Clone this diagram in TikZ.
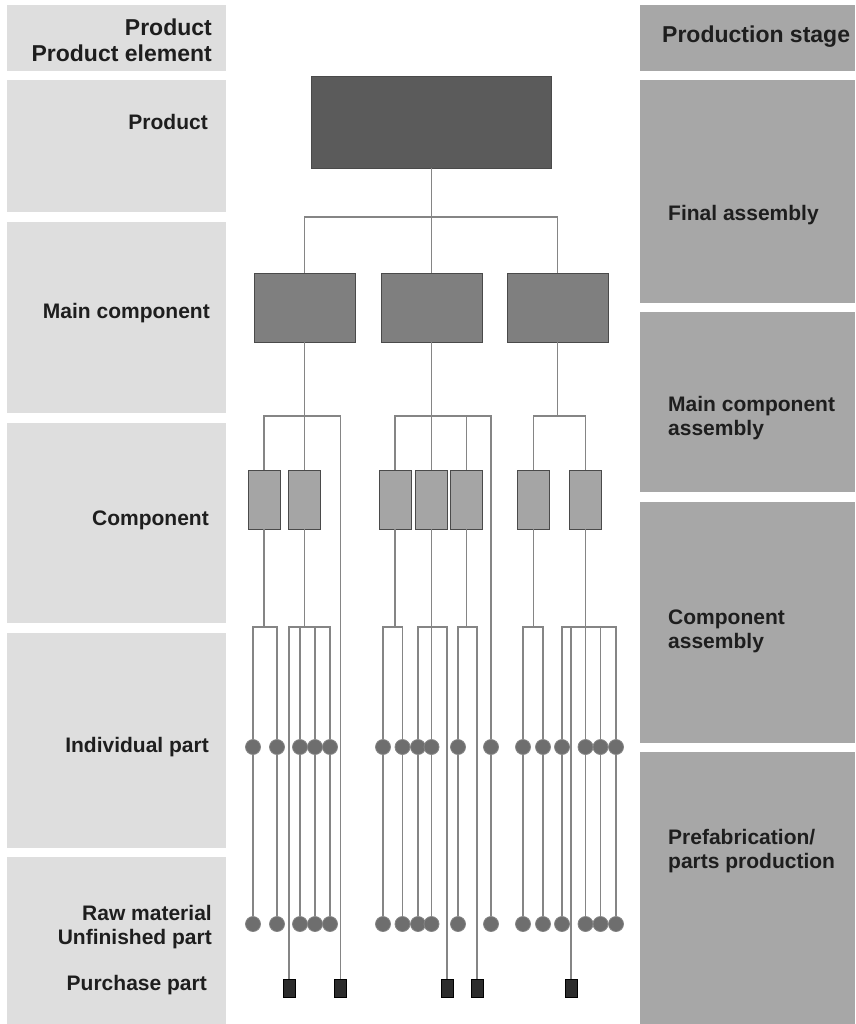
\documentclass[tikz,border=0pt]{standalone}
\usepackage{fontspec}
\setmainfont{Liberation Sans}

\definecolor{leftgray}{HTML}{DEDEDE}
\definecolor{rightgray}{HTML}{A7A7A7}
\definecolor{prodgray}{HTML}{5B5B5B}
\definecolor{maingray}{HTML}{7F7F7F}
\definecolor{compgray}{HTML}{A5A5A5}
\definecolor{edgegray}{HTML}{4A4A4A}
\definecolor{dotgray}{HTML}{6E6E6E}
\definecolor{buygray}{HTML}{2C2C2C}
\definecolor{linegray}{HTML}{858585}
\definecolor{txtcol}{HTML}{1E1E1E}

\tikzset{
  leftpanel/.style={fill=leftgray},
  rightpanel/.style={fill=rightgray},
  conn/.style={draw=linegray, line width=1.2pt},
  prodbox/.style={draw=edgegray, line width=0.8pt, fill=prodgray,
    minimum width=240pt, minimum height=92pt, inner sep=0pt},
  mainbox/.style={draw=edgegray, line width=0.8pt, fill=maingray,
    minimum width=101pt, minimum height=69pt, inner sep=0pt},
  compbox/.style={draw=edgegray, line width=0.8pt, fill=compgray,
    minimum width=32pt, minimum height=59pt, inner sep=0pt},
  partdot/.style={circle, draw=linegray, line width=0.8pt, fill=dotgray,
    minimum size=15pt, inner sep=0pt},
  buybox/.style={draw=black, line width=0.6pt, fill=buygray,
    minimum width=12pt, minimum height=18pt, inner sep=0pt},
  hdrL/.style={anchor=east, align=right, inner sep=0pt, text=txtcol,
    font=\fontsize{23}{26}\selectfont\bfseries},
  hdrR/.style={anchor=west, align=left, inner sep=0pt, text=txtcol,
    font=\fontsize{23}{26}\selectfont\bfseries},
  lblL/.style={anchor=east, align=right, inner sep=0pt, text=txtcol,
    font=\fontsize{21}{24}\selectfont\bfseries},
  lblR/.style={anchor=west, align=left, inner sep=0pt, text=txtcol,
    font=\fontsize{21}{24}\selectfont\bfseries},
}

\begin{document}
\begin{tikzpicture}[x=1pt, y=-1pt]
\useasboundingbox (0,0) rectangle (855,1024);

% product-element column
\fill[leftpanel] (7,5)   rectangle (226,71);
\fill[leftpanel] (7,80)  rectangle (226,212);
\fill[leftpanel] (7,222) rectangle (226,413);
\fill[leftpanel] (7,423) rectangle (226,623);
\fill[leftpanel] (7,633) rectangle (226,848);
\fill[leftpanel] (7,857) rectangle (226,1024);

% production-stage column
\fill[rightpanel] (640,5)   rectangle (855,71);
\fill[rightpanel] (640,80)  rectangle (855,303);
\fill[rightpanel] (640,312) rectangle (855,492);
\fill[rightpanel] (640,502) rectangle (855,743);
\fill[rightpanel] (640,752) rectangle (855,1024);

% column labels
\node[hdrL] (lhead) at (212,40) {Product\\Product element};
\node[lblL] (lprod) at (208,122) {Product};
\node[lblL] (lmain) at (210,313) {Main component};
\node[lblL] (lcomp) at (209,520) {Component};
\node[lblL] (lpart) at (209,747) {Individual part};
\node[lblL] (lraw)  at (212,927) {Raw material\\Unfinished part};
\node[lblL] (lbuy)  at (207,985) {Purchase part};

\node[hdrR] (rhead)  at (662,37)  {Production stage};
\node[lblR] (rfinal) at (668,215) {Final assembly};
\node[lblR] (rmain)  at (668,418) {Main component\\assembly};
\node[lblR] (rcomp)  at (668,631) {Component\\assembly};
\node[lblR] (rpre)   at (668,851) {Prefabrication/\\parts production};

% product structure
\node[prodbox] (P) at (431.5,122) {};
\node[mainbox] (M1) at (304.5,307.5) {};
\node[mainbox] (M2) at (431.5,307.5) {};
\node[mainbox] (M3) at (557.5,307.5) {};

\node[compbox] (C1) at (264,499.5) {};
\node[compbox] (C2) at (304.5,499.5) {};
\node[compbox] (C3) at (395,499.5) {};
\node[compbox] (C4) at (431.5,499.5) {};
\node[compbox] (C5) at (466.5,499.5) {};
\node[compbox] (C6) at (533.5,499.5) {};
\node[compbox] (C7) at (585.5,499.5) {};

% individual parts and their raw materials
\foreach \x [count=\k] in {253,277,300,315,330,383,402.5,418,431.5,458,491,523,543,562,585.5,600.5,616}{
  \node[partdot] (i\k) at (\x,747) {};
  \node[partdot] (r\k) at (\x,924) {};
}

% purchase parts
\foreach \x [count=\k] in {289,340.5,447,477,571}{
  \node[buybox] (p\k) at (\x,988) {};
}

% bus levels
\coordinate (busP) at (0,217);
\coordinate (busM) at (0,416);
\coordinate (busC) at (0,627);

% product -> main components
\draw[conn] (P.south) -- (M2.north);
\draw[conn] (M1.north) -- (M1.north |- busP) -| (M3.north);

% main components -> components
\draw[conn] (M1.south) -- (C2.north);
\draw[conn] (C1.north) -- (C1.north |- busM) -| (p2.north);
\draw[conn] (M2.south) -- (C4.north);
\draw[conn] (C3.north) -- (C3.north |- busM) -| (i11.north);
\draw[conn] (C5.north) -- (C5.north |- busM);
\draw[conn] (M3.south) -- (M3.south |- busM);
\draw[conn] (C6.north) -- (C6.north |- busM) -| (C7.north);

% components -> parts
\draw[conn] (C1.south) -- (C1.south |- busC);
\draw[conn] (i1.north) -- (i1.north |- busC) -| (i2.north);
\draw[conn] (C2.south) -- (C2.south |- busC);
\draw[conn] (p1.north) -- (p1.north |- busC) -| (i5.north);
\draw[conn] (i3.north) -- (i3.north |- busC);
\draw[conn] (i4.north) -- (i4.north |- busC);
\draw[conn] (C3.south) -- (C3.south |- busC);
\draw[conn] (i6.north) -- (i6.north |- busC) -| (i7.north);
\draw[conn] (C4.south) -- (i9.north);
\draw[conn] (i8.north) -- (i8.north |- busC) -| (p3.north);
\draw[conn] (C5.south) -- (C5.south |- busC);
\draw[conn] (i10.north) -- (i10.north |- busC) -| (p4.north);
\draw[conn] (C6.south) -- (C6.south |- busC);
\draw[conn] (i12.north) -- (i12.north |- busC) -| (i13.north);
\draw[conn] (C7.south) -- (i15.north);
\draw[conn] (i14.north) -- (i14.north |- busC) -| (i17.north);
\draw[conn] (p5.north) -- (p5.north |- busC);
\draw[conn] (i16.north) -- (i16.north |- busC);

% individual parts -> raw material
\foreach \k in {1,...,17}{
  \draw[conn] (i\k.south) -- (r\k.north);
}
\end{tikzpicture}
\end{document}
